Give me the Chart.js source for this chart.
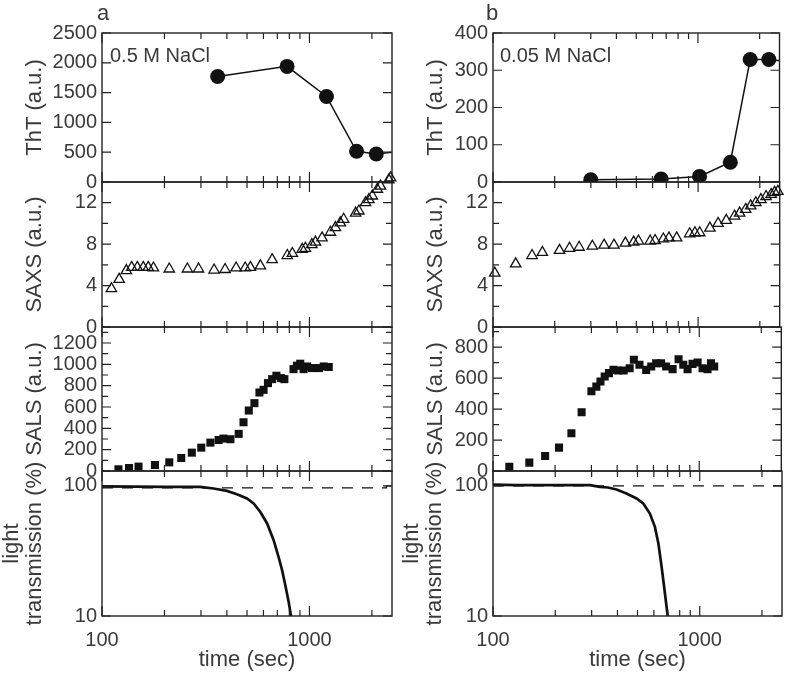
<!DOCTYPE html>
<html>
<head>
<meta charset="utf-8">
<script src="https://cdn.jsdelivr.net/npm/chart.js@4.4.1/dist/chart.umd.min.js"></script>
<style>
  body { margin: 0; background: #fff; }
  #wrap { position: relative; width: 787px; height: 675px; font-family: 'Liberation Sans', Arial, sans-serif; color: #3a3a3a; }
  #wrap canvas { position: absolute; left: 0; top: 0; }
  .lbl { position: absolute; font-size: 22px; line-height: 1; }
  .note { position: absolute; font-size: 20px; line-height: 1; white-space: nowrap; }
</style>
</head>
<body>
<div id="wrap">
  <canvas id="thtA" width="787" height="675"></canvas>
  <canvas id="saxsA" width="787" height="675"></canvas>
  <canvas id="salsA" width="787" height="675"></canvas>
  <canvas id="ltA" width="787" height="675"></canvas>
  <canvas id="thtB" width="787" height="675"></canvas>
  <canvas id="saxsB" width="787" height="675"></canvas>
  <canvas id="salsB" width="787" height="675"></canvas>
  <canvas id="ltB" width="787" height="675"></canvas>
  <div class="lbl" style="left:97px;top:2px">a</div>
  <div class="lbl" style="left:486px;top:2px">b</div>
  <div class="note" style="left:110px;top:45px">0.5 M NaCl</div>
  <div class="note" style="left:500px;top:45px">0.05 M NaCl</div>
</div>
<script>
// shared time axis (sec)
var timeMin = 100, timeMax = 2500;
var timeLabels = [100, 1000];
var timeMinor = [200, 300, 400, 500, 600, 700, 800, 900, 2000];

// y tick labels / minor ticks
var thtLabelsA = [0, 500, 1000, 1500, 2000, 2500];
var thtLabelsB = [0, 100, 200, 300, 400];
var saxsLabels = [0, 4, 8, 12];
var saxsMinor = [2, 6, 10];
var salsLabelsA = [0, 200, 400, 600, 800, 1000, 1200];
var salsMinorA = [100, 300, 500, 700, 900, 1100, 1300];
var salsLabelsB = [0, 200, 400, 600, 800];
var salsMinorB = [100, 300, 500, 700, 900];
var ltLabels = [10, 100];

// a: 0.5 M NaCl
var thtTimeA = [361, 780, 1208, 1687, 2100, 3000];
var thtA = [1770, 1940, 1435, 515, 470, 530];

var saxsTimeA = [111, 121, 131, 139, 148, 158, 167, 177, 211, 258, 292, 347, 392, 443, 490, 519, 580, 661, 782, 827, 923, 956, 1027, 1069, 1150, 1262, 1334, 1409, 1462, 1670, 1731, 1863, 1935, 2009, 2125, 2200, 2413, 2460];
var saxsA = [3.7, 4.6, 5.45, 5.75, 5.75, 5.75, 5.75, 5.7, 5.6, 5.6, 5.6, 5.5, 5.55, 5.7, 5.7, 5.75, 5.9, 6.5, 6.9, 7.1, 7.5, 7.6, 7.95, 8.2, 8.6, 9.15, 9.6, 10.05, 10.4, 11.0, 11.2, 12.0, 12.3, 12.65, 13.3, 13.6, 14.2, 14.4];

var salsTimeA = [120, 135, 150, 180, 211, 241, 271, 301, 333, 365, 385, 416, 456, 481, 510, 543, 574, 601, 631, 661, 693, 730, 757, 838, 870, 903, 937, 974, 1027, 1110, 1172, 1239];
var salsA = [16, 28, 41, 56, 81, 122, 172, 219, 266, 291, 304, 298, 348, 457, 567, 636, 736, 761, 824, 861, 893, 871, 861, 955, 987, 1006, 955, 980, 965, 965, 980, 975];

var ltTimeA = [100, 142, 205, 297, 345, 400, 447, 500, 538, 580, 625, 672, 710, 738, 765, 794, 815, 830];
var ltA = [99, 98.5, 98.3, 98, 95.4, 91.5, 86.3, 80, 73.3, 63, 51.4, 38.2, 28.4, 22.5, 17.2, 12.8, 10, 9];
var ltRefTimeA = [100, 2350, 2350, 2500];
var ltRefA = [96.5, 96.5, 100, 100];

// b: 0.05 M NaCl
var thtTimeB = [300, 661, 1018, 1439, 1799, 2218, 3000];
var thtB = [6, 8, 15, 53, 329, 329, 320];

var saxsTimeB = [102, 129, 155, 174, 211, 236, 263, 305, 348, 389, 442, 485, 512, 584, 617, 677, 721, 786, 910, 965, 1018, 1142, 1252, 1372, 1506, 1595, 1706, 1805, 1912, 2024, 2145, 2272, 2361, 2450];
var saxsB = [5.2, 6.1, 6.9, 7.2, 7.4, 7.6, 7.7, 7.8, 7.9, 7.9, 8.1, 8.2, 8.3, 8.3, 8.35, 8.5, 8.6, 8.6, 9.0, 9.1, 9.1, 9.55, 10.0, 10.3, 10.7, 11.0, 11.35, 11.7, 12.0, 12.3, 12.6, 12.8, 13.0, 13.1];

var salsTimeB = [120, 150, 179, 209, 240, 269, 300, 317, 332, 348, 365, 384, 403, 430, 460, 482, 513, 553, 585, 618, 653, 691, 743, 794, 837, 878, 928, 982, 1038, 1097, 1140, 1182];
var salsB = [28, 54, 97, 151, 244, 379, 515, 545, 578, 610, 632, 653, 649, 649, 664, 718, 686, 653, 675, 696, 696, 675, 658, 722, 686, 658, 692, 701, 664, 658, 696, 675];

var ltTimeB = [100, 130, 189, 294, 329, 360, 396, 442, 495, 533, 574, 607, 631, 654, 676, 700, 715];
var ltB = [102, 101.2, 101.2, 101.2, 98.2, 97.1, 93.7, 87.3, 79.9, 73.1, 61.3, 48.4, 36, 23.9, 15.7, 10, 9];
var ltRefTimeB = [100, 2500];
var ltRefB = [100, 100];

var ink = '#111';
var textColor = '#3a3a3a';
var tickFont = { family: 'Liberation Sans', size: 20 };
var titleFont = { family: 'Liberation Sans', size: 22, lineHeight: 1.05 };

function pts(xs, ys) {
	return xs.map(function (t, i) { return { x: t, y: ys[i] }; });
}

// frame round the plot area plus inward ticks on all four sides
function frameTicks(yMajor, yMinor) {
	return {
		id: 'frameTicks',
		afterDatasetsDraw: function (chart) {
			var ctx = chart.ctx, a = chart.chartArea, x = chart.scales.x, y = chart.scales.y;
			ctx.save();
			ctx.strokeStyle = '#222';
			ctx.lineWidth = 1.4;
			ctx.strokeRect(a.left, a.top, a.right - a.left, a.bottom - a.top);
			ctx.lineWidth = 1.2;
			ctx.beginPath();
			function xt(vals, len) {
				vals.forEach(function (v) {
					var p = x.getPixelForValue(v);
					ctx.moveTo(p, a.top); ctx.lineTo(p, a.top + len);
					ctx.moveTo(p, a.bottom); ctx.lineTo(p, a.bottom - len);
				});
			}
			function yt(vals, len) {
				vals.forEach(function (v) {
					var p = y.getPixelForValue(v);
					ctx.moveTo(a.left, p); ctx.lineTo(a.left + len, p);
					ctx.moveTo(a.right, p); ctx.lineTo(a.right - len, p);
				});
			}
			xt(timeLabels, 10);
			xt(timeMinor, 6);
			yt(yMajor, 9);
			yt(yMinor || [], 6);
			ctx.stroke();
			ctx.restore();
		}
	};
}

function panel(id, cfg) {
	var bottomRow = !!cfg.xTitle;
	return new Chart(document.getElementById(id), {
		type: 'scatter',
		data: { datasets: cfg.datasets },
		options: {
			responsive: false,
			animation: false,
			events: [],
			layout: { padding: { left: cfg.titleLeft, right: 787 - cfg.right, top: cfg.top, bottom: bottomRow ? 2 : 675 - cfg.bottom } },
			plugins: { legend: { display: false }, tooltip: { enabled: false } },
			scales: {
				x: {
					type: 'logarithmic', min: timeMin, max: timeMax, display: bottomRow,
					grid: { display: false, drawTicks: false }, border: { display: false },
					afterBuildTicks: function (s) { s.ticks = timeLabels.map(function (v) { return { value: v }; }); },
					afterFit: function (s) { if (bottomRow) s.height = 675 - 2 - cfg.bottom; },
					ticks: { callback: function (v) { return String(v); }, font: tickFont, color: textColor, padding: 12, maxRotation: 0, autoSkip: false },
					title: { display: bottomRow, text: cfg.xTitle, font: { family: 'Liberation Sans', size: 22 }, color: textColor, padding: 0 }
				},
				y: {
					type: cfg.yType || 'linear', min: cfg.yMin, max: cfg.yMax,
					grid: { display: false, drawTicks: false }, border: { display: false },
					afterBuildTicks: function (s) { s.ticks = cfg.yLabels.map(function (v) { return { value: v }; }); },
					afterFit: function (s) { s.width = cfg.left - cfg.titleLeft; },
					ticks: { callback: function (v) { return String(v); }, font: tickFont, color: textColor, padding: 5, autoSkip: false },
					title: { display: true, text: cfg.yTitle, font: titleFont, color: textColor, padding: 0 }
				}
			}
		},
		plugins: [frameTicks(cfg.yLabels, cfg.yMinor)]
	});
}

function thtSet(data) {
	return { data: data, showLine: true, borderColor: ink, borderWidth: 1.5, pointRadius: 7.5, pointBackgroundColor: ink, pointBorderColor: ink, pointBorderWidth: 0 };
}
function saxsSet(data) {
	return { data: data, pointStyle: 'triangle', pointRadius: 6, pointBorderWidth: 1.3, pointBorderColor: ink, pointBackgroundColor: 'rgba(0,0,0,0)', clip: false };
}
function salsSet(data) {
	return { data: data, pointStyle: 'rect', pointRadius: 5.7, pointBorderWidth: 0, pointBackgroundColor: ink, pointBorderColor: ink };
}
function ltSet(data) {
	return { data: data, showLine: true, pointRadius: 0, borderColor: ink, borderWidth: 2.7 };
}
function refSet(data) {
	return { data: data, showLine: true, pointRadius: 0, borderColor: ink, borderWidth: 1.4, borderDash: [11, 9] };
}

var colA = { left: 102, right: 392, titleLeft: 23.5 };
var colB = { left: 493, right: 782, titleLeft: 424.5 };
var rows = { tht: [33, 182], saxs: [182, 327], sals: [327, 471], lt: [471, 616] };

function cfgFor(col, row, extra) {
	return Object.assign({ left: col.left, right: col.right, titleLeft: col.titleLeft, top: rows[row][0], bottom: rows[row][1] }, extra);
}

panel('thtA', cfgFor(colA, 'tht', { yMin: 0, yMax: 2500, yLabels: thtLabelsA, yTitle: 'ThT (a.u.)', datasets: [thtSet(pts(thtTimeA, thtA))] }));
panel('saxsA', cfgFor(colA, 'saxs', { yMin: 0, yMax: 14, yLabels: saxsLabels, yMinor: saxsMinor, yTitle: 'SAXS (a.u.)', datasets: [saxsSet(pts(saxsTimeA, saxsA))] }));
panel('salsA', cfgFor(colA, 'sals', { yMin: 0, yMax: 1350, yLabels: salsLabelsA, yMinor: salsMinorA, yTitle: 'SALS (a.u.)', datasets: [salsSet(pts(salsTimeA, salsA))] }));
panel('ltA', cfgFor(colA, 'lt', { titleLeft: 0.5, yType: 'logarithmic', yMin: 10, yMax: 130, yLabels: ltLabels, yTitle: ['light', 'transmission (%)'], xTitle: 'time (sec)',
	datasets: [refSet(pts(ltRefTimeA, ltRefA)), ltSet(pts(ltTimeA, ltA))] }));

panel('thtB', cfgFor(colB, 'tht', { yMin: 0, yMax: 400, yLabels: thtLabelsB, yTitle: 'ThT (a.u.)', datasets: [thtSet(pts(thtTimeB, thtB))] }));
panel('saxsB', cfgFor(colB, 'saxs', { yMin: 0, yMax: 14, yLabels: saxsLabels, yMinor: saxsMinor, yTitle: 'SAXS (a.u.)', datasets: [saxsSet(pts(saxsTimeB, saxsB))] }));
panel('salsB', cfgFor(colB, 'sals', { yMin: 0, yMax: 930, yLabels: salsLabelsB, yMinor: salsMinorB, yTitle: 'SALS (a.u.)', datasets: [salsSet(pts(salsTimeB, salsB))] }));
panel('ltB', cfgFor(colB, 'lt', { titleLeft: 400.5, yType: 'logarithmic', yMin: 10, yMax: 130, yLabels: ltLabels, yTitle: ['light', 'transmission (%)'], xTitle: 'time (sec)',
	datasets: [refSet(pts(ltRefTimeB, ltRefB)), ltSet(pts(ltTimeB, ltB))] }));
</script>
</body>
</html>
